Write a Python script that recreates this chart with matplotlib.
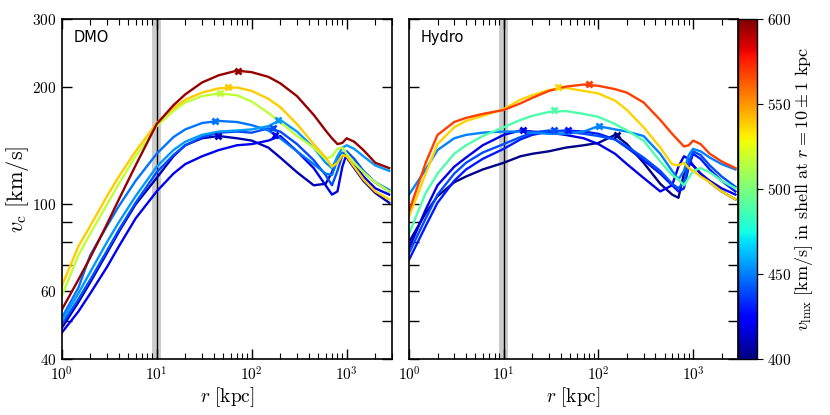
import numpy as np
import matplotlib
matplotlib.use('Agg')
import matplotlib.pyplot as plt
import matplotlib.ticker as ticker
from matplotlib.colors import Normalize

plt.rcParams['mathtext.fontset'] = 'cm'

# radii (kpc) shared by all curves
r = [1, 1.5, 2, 3, 4, 6, 10, 15, 20, 30, 45, 70, 100, 150, 200, 300,
     450, 600, 700, 800, 900, 1000, 1200, 1500, 2000, 2800]

# ---- DMO ----
dmo_vlmx = [596, 539, 516, 448, 455, 440, 410, 420]
dmo_1 = [53.5, 64, 73, 89, 103, 126, 161, 180, 192, 206, 215, 221, 219, 213, 205, 190,
         170, 155, 148, 143, 144, 148, 145, 138, 128, 124]
dmo_2 = [61.5, 78, 88, 105, 118, 137, 162, 177, 186, 194, 199, 200, 196, 187, 178, 161,
         143, 132, 125, 128, 134, 133, 125, 116, 108, 103]
dmo_3 = [58, 74, 84, 100, 113, 133, 159, 174, 183, 190, 193, 191, 184, 172, 163, 150,
         140, 131, 133, 139, 140, 135, 128, 121, 114, 108]
dmo_4 = [51, 61, 74, 88, 99, 115, 135, 149, 156, 162, 164, 163, 160, 155, 148, 137,
         127, 120, 119, 130, 136, 134, 128, 121, 114, 109]
dmo_5 = [50, 59, 67, 80, 90, 105, 125, 138, 145, 151, 154, 155, 156, 159, 165, 154,
         140, 128, 124, 133, 140, 142, 139, 133, 126, 122]
dmo_6 = [49, 57, 64, 76, 86, 101, 121, 134, 142, 149, 153, 154, 153, 157, 154, 143,
         130, 119, 112, 122, 134, 137, 131, 122, 114, 108]
dmo_7 = [48, 56, 63, 75, 85, 100, 117, 133, 142, 148, 150, 148, 146, 140, 132, 121,
         112, 113, 121, 132, 135, 132, 124, 115, 107, 101]
dmo_8 = [46.7, 53, 59, 69, 78, 92, 108, 120, 127, 133, 138, 142, 143, 146, 150, 137,
         124, 112, 106, 108, 125, 135, 127, 118, 110, 106]
dmo_rpk = [71, 57, 46, 41, 190, 169, 44, 176]
dmo_vpk = [221, 200, 193, 164, 165, 157.5, 150, 151]

# ---- Hydro ----
hyd_vlmx = [568, 537, 489, 450, 418, 440, 430, 402]
hyd_1 = [96, 128, 151, 163, 167, 171, 175, 182, 188, 196, 201, 203.5, 202, 198, 194, 183,
         165, 152, 146, 141, 142, 146, 143, 135, 129, 124]
hyd_2 = [93, 120, 143, 158, 164, 169, 176, 186, 191, 197, 199.5, 196, 193, 185, 175, 158,
         140, 127, 126, 128, 124, 122, 118, 114, 108, 103]
hyd_3 = [84, 107, 120, 135, 142, 150, 158, 165, 169, 173, 174, 171, 168, 161, 155, 146,
         129, 119, 116, 112, 117, 122, 124, 121, 115, 110]
hyd_4 = [106, 123, 138, 148, 151, 153, 154, 154, 153, 152, 152, 154, 159, 156, 154, 150,
         135, 122, 116, 122, 134, 139, 137, 132, 127, 123]
hyd_5 = [77, 97, 112, 125, 132, 142, 151, 155, 154, 153, 151, 148, 143, 135, 127, 117,
         108, 112, 125, 133, 131, 126, 120, 115, 110, 106]
hyd_6 = [75, 92, 106, 120, 128, 136, 143, 149, 153, 155, 154, 152, 150, 147, 141, 132,
         122, 113, 110, 114, 128, 137, 134, 126, 118, 111]
hyd_7 = [72, 88, 101, 115, 123, 131, 139, 147, 151, 154, 155, 154, 152, 147, 140, 130,
         120, 112, 108, 110, 125, 135, 131, 123, 115, 108]
hyd_8 = [80, 95, 105, 114, 118, 123, 128, 133, 135, 137, 140, 142, 144, 151, 143, 128,
         113, 106, 104, 120, 128, 126, 120, 114, 108, 103]
hyd_rpk = [79, 37, 34, 101, 16, 34, 48, 157]
hyd_vpk = [204, 200, 174.5, 159, 155, 155, 155, 151]

dmo_curves = [dmo_1, dmo_2, dmo_3, dmo_4, dmo_5, dmo_6, dmo_7, dmo_8]
hyd_curves = [hyd_1, hyd_2, hyd_3, hyd_4, hyd_5, hyd_6, hyd_7, hyd_8]

cmap = plt.get_cmap('jet')
norm = Normalize(400, 600)

fig = plt.figure(figsize=(8.3, 4.15), dpi=100)
ax1 = fig.add_axes([0.0743, 0.135, 0.398, 0.819])
ax2 = fig.add_axes([0.4928, 0.135, 0.3967, 0.819])
cax = fig.add_axes([0.8895, 0.135, 0.0222, 0.819])

panels = [(ax1, dmo_curves, dmo_vlmx, dmo_rpk, dmo_vpk, 'DMO'),
          (ax2, hyd_curves, hyd_vlmx, hyd_rpk, hyd_vpk, 'Hydro')]

for ax, curves, vl, rpk, vpk, name in panels:
    ax.axvspan(9, 11, color='0.8', lw=0, zorder=0)
    ax.axvline(10, color='k', lw=1.0, zorder=1)
    # low vlmx first so the warm colours sit on top
    order = np.argsort(vl)
    for i in order:
        c = cmap(norm(vl[i]))
        ax.plot(r, curves[i], color=c, lw=1.7, zorder=2)
        ax.plot(rpk[i], vpk[i], 'x', color=c, ms=5, mew=2, zorder=3)
    ax.set_xscale('log')
    ax.set_yscale('log')
    ax.set_xlim(1, 3000)
    ax.set_ylim(40, 300)
    ax.set_yticks([40, 50, 60, 70, 80, 90, 100, 200, 300])
    ax.yaxis.set_minor_locator(ticker.NullLocator())
    ax.xaxis.set_major_formatter(ticker.FuncFormatter(
        lambda x, p: r'$10^{%d}$' % int(round(np.log10(x)))))
    ax.xaxis.set_minor_formatter(ticker.NullFormatter())
    ax.tick_params(which='both', direction='in', top=True, right=True, labelsize=11)
    ax.tick_params(which='major', length=7, width=1)
    ax.tick_params(which='minor', length=4, width=0.8)
    ax.tick_params(axis='x', pad=5)
    for s in ax.spines.values():
        s.set_linewidth(1.2)
    ax.set_xlabel(r'$r\ [\mathrm{kpc}]$', fontsize=14, labelpad=1)
    ax.text(0.035, 0.945, name, transform=ax.transAxes, fontsize=10.5,
            family='DejaVu Sans', va='center', ha='left')

ax1.set_yticklabels(['$40$', '', '$60$', '', '', '', '$100$', '$200$', '$300$'])
ax2.set_yticklabels([])
ax1.set_ylabel(r'$v_{\rm c}\ [\mathrm{km/s}]$', fontsize=16, labelpad=1)

sm = plt.cm.ScalarMappable(norm=norm, cmap=cmap)
cb = fig.colorbar(sm, cax=cax, ticks=[400, 450, 500, 550, 600])
cb.ax.set_yticklabels(['$400$', '$450$', '$500$', '$550$', '$600$'])
cb.ax.tick_params(labelsize=11, length=4)
cb.outline.set_linewidth(1.0)
cb.set_label(r'$v_{\rm lmx}\ [\mathrm{km/s}]\ \mathrm{in\ shell\ at}\ r=10\pm1\ \mathrm{kpc}$',
             fontsize=13, labelpad=1)

fig.savefig('out.png', dpi=100)
